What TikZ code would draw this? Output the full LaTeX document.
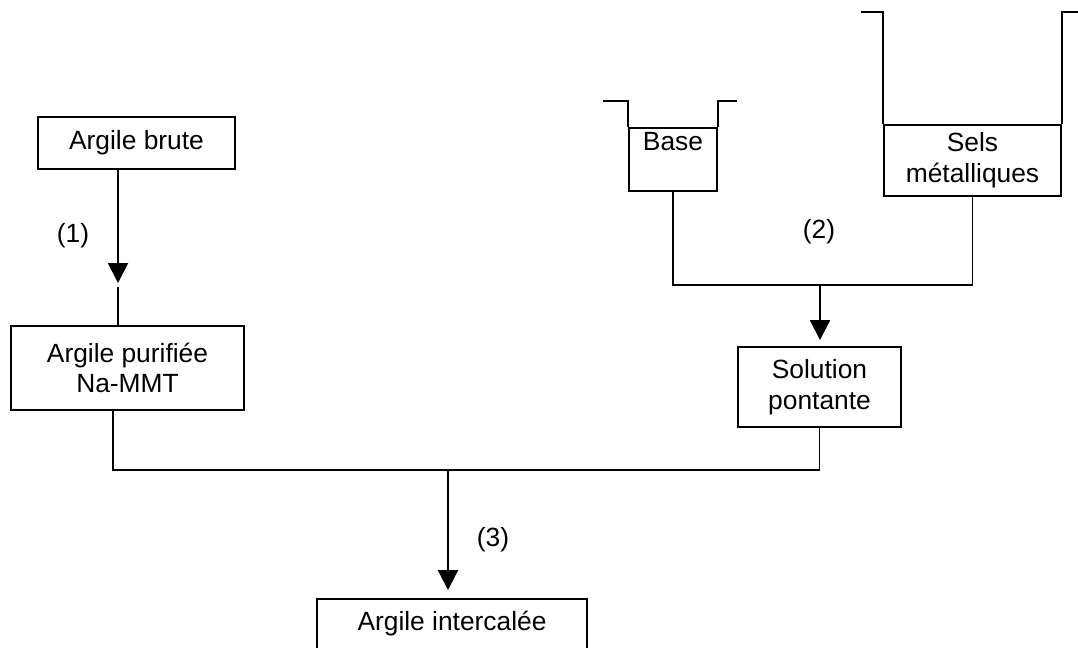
\documentclass[tikz,border=0pt]{standalone}
\usepackage{fontspec}
\setmainfont{Liberation Sans}
\usetikzlibrary{arrows.meta}

\begin{document}
\begin{tikzpicture}[x=0.02cm,y=-0.02cm,>={Triangle[length=4mm,width=4mm]},line width=1.1pt,line cap=butt,
  box/.style={draw,inner sep=0pt,align=center,font=\fontsize{15}{17.5}\selectfont},
  lbl/.style={font=\fontsize{15}{17.5}\selectfont}]
\useasboundingbox (0,0) rectangle (1078,647);
% boxes
\node[box,minimum width=3.94cm,minimum height=1.04cm] (brute) at (136.5,143) {Argile brute};
\node[box,minimum width=4.66cm,minimum height=1.68cm] (purif) at (127.5,368) {Argile purifi\'ee\\Na-MMT};
\node[box,minimum width=3.26cm,minimum height=1.6cm] (sol) at (819.5,387) {Solution\\pontante};
\node[box,minimum width=5.4cm,minimum height=1.0cm] (inter) at (452,624) {Argile intercal\'ee};
% beakers
\node[box,minimum width=1.76cm,text height=0.46cm,text depth=0.8cm,anchor=north] (base) at (673,127) {Base};
\draw (base.north west) -- ++(0,-26) -- ++(-25,0);
\draw (base.north east) -- ++(0,-26) -- ++(19,0);
\node[box,minimum width=3.54cm,minimum height=1.42cm] (sels) at (972.5,160.5) {Sels\\m\'etalliques};
\draw (sels.north west) -- ++(0,-112) -- ++(-22,0);
\draw (sels.north east) -- ++(0,-112) -- ++(20,0);
% step (1)
\coordinate (a1) at (118,283);
\coordinate (a1b) at (118,287);
\draw[->] (brute.south -| a1) -- (a1);
\draw (a1b) -- (purif.north -| a1b);
\node[lbl] (n1) at (73,236) {(1)};
% step (2)
\coordinate (j2) at (820,285);
\draw (base.south) -- (base.south |- j2) -- (sels.south |- j2) -- (sels.south);
\draw[->,shorten >=0.12cm] (j2) -- (j2 |- sol.north);
\node[lbl] (n2) at (819,232) {(2)};
% step (3)
\coordinate (p3) at (113,470);
\coordinate (j3) at (448,470);
\draw (purif.south -| p3) -- (p3) -- (sol.south |- p3) -- (sol.south);
\draw[->,shorten >=0.16cm] (j3) -- (j3 |- inter.north);
\node[lbl] (n3) at (493,540) {(3)};
\end{tikzpicture}
\end{document}
